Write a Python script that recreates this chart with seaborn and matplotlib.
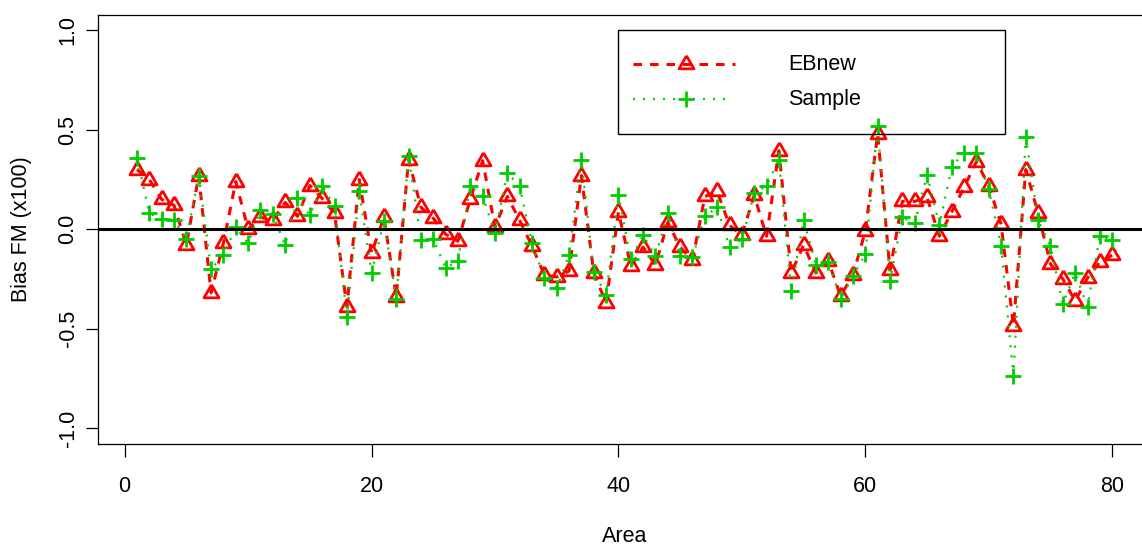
import numpy as np
import pandas as pd
import matplotlib
matplotlib.use("Agg")
import matplotlib.pyplot as plt
import seaborn as sns
from matplotlib.lines import Line2D
from matplotlib.patches import Rectangle

area = list(range(1, 81))
ebnew = [0.30, 0.25, 0.15, 0.12, -0.08, 0.27, -0.32, -0.07, 0.24, 0.00,
         0.06, 0.045, 0.135, 0.065, 0.22, 0.155, 0.08, -0.39, 0.25, -0.12,
         0.06, -0.34, 0.35, 0.11, 0.055, -0.025, -0.06, 0.15, 0.345, 0.01,
         0.165, 0.045, -0.085, -0.23, -0.24, -0.21, 0.27, -0.22, -0.37, 0.087,
         -0.185, -0.09, -0.18, 0.035, -0.09, -0.155, 0.165, 0.19, 0.02, -0.03,
         0.17, -0.035, 0.395, -0.22, -0.08, -0.22, -0.16, -0.335, -0.23, -0.01,
         0.48, -0.205, 0.14, 0.14, 0.16, -0.035, 0.087, 0.21, 0.34, 0.22,
         0.025, -0.485, 0.30, 0.08, -0.175, -0.25, -0.36, -0.245, -0.165, -0.13]
sample = [0.36, 0.08, 0.05, 0.045, -0.05, 0.27, -0.20, -0.13, 0.01, -0.07,
          0.095, 0.075, -0.08, 0.155, 0.07, 0.22, 0.115, -0.44, 0.19, -0.22,
          0.04, -0.35, 0.37, -0.055, -0.05, -0.195, -0.16, 0.22, 0.165, -0.02,
          0.285, 0.215, -0.07, -0.245, -0.295, -0.13, 0.35, -0.215, -0.33, 0.17,
          -0.15, -0.03, -0.135, 0.08, -0.135, -0.14, 0.065, 0.11, -0.09, -0.05,
          0.18, 0.22, 0.35, -0.31, 0.045, -0.18, -0.165, -0.35, -0.235, -0.125,
          0.52, -0.26, 0.06, 0.03, 0.275, 0.02, 0.315, 0.385, 0.385, 0.20,
          -0.085, -0.74, 0.465, 0.045, -0.085, -0.375, -0.22, -0.39, -0.035, -0.055]

series_names = ["EBnew", "Sample"]
yticks = [-1.0, -0.5, 0.0, 0.5, 1.0]
ytick_labels = ["-1.0", "-0.5", "0.0", "0.5", "1.0"]
xticks = [0, 20, 40, 60, 80]

RED = "#FF0000"
GREEN = "#00CD00"
FS = 15.5
MS_TRI = 12.5
MS_PLUS = 11.5

sns.set_style("white")
plt.rcParams["font.family"] = ["Liberation Sans", "DejaVu Sans"]
plt.rcParams["text.color"] = "black"
plt.rcParams["axes.labelcolor"] = "black"
plt.rcParams["xtick.color"] = "black"
plt.rcParams["ytick.color"] = "black"

W, H = 1142, 548
fig = plt.figure(figsize=(W / 100, H / 100), dpi=100)
x0, x1 = 98.0, 1151.2
y0, y1 = 14.5, 444.0
ax = fig.add_axes([x0 / W, 1 - y1 / H, (x1 - x0) / W, (y1 - y0) / H])

tri = [(0, 1), (-0.866, -0.5), (0.866, -0.5), (0, 1)]

df = pd.DataFrame({"Area": area, "EBnew": ebnew, "Sample": sample})

sns.lineplot(data=df, x="Area", y="EBnew", ax=ax, color=RED, lw=2.2,
             dashes=False, linestyle=(0, (2.8, 2.6)), marker=tri, markersize=MS_TRI,
             markerfacecolor="none", markeredgecolor=RED, markeredgewidth=2.0,
             zorder=2)
sns.lineplot(data=df, x="Area", y="Sample", ax=ax, color=GREEN, lw=1.6,
             dashes=False, linestyle=(0, (0.9, 3.6)), marker="+", markersize=MS_PLUS,
             markeredgecolor=GREEN, markeredgewidth=2.0, zorder=3)
ax.axhline(0, color="black", lw=2.2, zorder=4)

ax.set_xlim(-2.16, 83.16)
ax.set_ylim(-1.08, 1.08)
ax.set_xticks(xticks)
ax.set_xticklabels([str(t) for t in xticks], fontsize=FS, color="black")
ax.set_yticks(yticks)
ax.set_yticklabels(ytick_labels, fontsize=FS, rotation=90, va="center", color="black")
ax.tick_params(axis="both", which="major", bottom=True, left=True, top=False, right=False,
               direction="out", length=9, width=0.9, color="black")
ax.tick_params(axis="x", pad=14)
ax.tick_params(axis="y", pad=5)
for s in ax.spines.values():
    s.set_color("black")
    s.set_linewidth(0.9)

ax.set_xlabel("Area", fontsize=FS, va="center", color="black")
ax.xaxis.set_label_coords(0.5, (y1 - 537) / (y1 - y0))
ax.set_ylabel("Bias FM (x100)", fontsize=FS, va="center", color="black")
ax.yaxis.set_label_coords((22 - x0) / (x1 - x0), 0.5)

# legend drawn in figure pixel space (transparent background as in the original)
def fx(p):
    return p / W

def fy(p):
    return 1 - p / H

fig.patches.append(Rectangle((fx(618), fy(134)), fx(1005) - fx(618), fy(30) - fy(134),
                             transform=fig.transFigure, fill=False,
                             edgecolor="black", lw=1.0, zorder=5))
fig.lines.append(Line2D([fx(633), fx(735)], [fy(64), fy(64)], transform=fig.transFigure,
                        color=RED, lw=2.2, linestyle=(0, (2.8, 2.6)), zorder=6))
fig.lines.append(Line2D([fx(686)], [fy(64)], transform=fig.transFigure, color=RED,
                        marker=tri, markersize=MS_TRI, markerfacecolor="none",
                        markeredgecolor=RED, markeredgewidth=2.0, lw=0, zorder=7))
fig.lines.append(Line2D([fx(633), fx(730)], [fy(99), fy(99)], transform=fig.transFigure,
                        color=GREEN, lw=1.6, linestyle=(0, (0.9, 3.6)), zorder=6))
fig.lines.append(Line2D([fx(686)], [fy(99)], transform=fig.transFigure, color=GREEN,
                        marker="+", markersize=MS_PLUS, markeredgewidth=2.0, lw=0, zorder=7))
fig.text(fx(788), fy(64), series_names[0], fontsize=FS, va="center", ha="left", zorder=8)
fig.text(fx(788), fy(99), series_names[1], fontsize=FS, va="center", ha="left", zorder=8)

fig.savefig("out.png", dpi=100)
